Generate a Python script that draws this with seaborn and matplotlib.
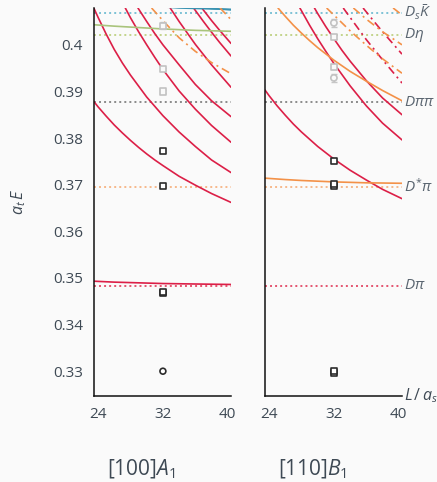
import matplotlib
matplotlib.use("Agg")
import matplotlib.pyplot as plt
import pandas as pd
import seaborn as sns

# ---- non-interacting levels, [100]A1 (L/a_s vs a_t E) ----
A1_RED_L = [
    [23.5, 24, 25, 26, 27, 28, 29, 30, 31, 32, 34, 36, 38, 40.4],
    [23.5, 24, 25, 26, 27, 28, 30, 32, 34, 36, 38, 40.4],
    [27.36, 28, 29, 30, 31, 32, 34, 36, 38, 40.4],
    [28.92, 30, 31, 32, 34, 36, 38, 40.4],
    [32.9, 34, 36, 38, 40.4],
    [35.78, 37, 38, 39, 40.4],
    [36.8, 38, 39, 40.4],
    [23.5, 26, 28, 32, 36, 40.4],
]
A1_RED_E = [
    [0.3878, 0.3867, 0.3847, 0.3828, 0.3811, 0.3795, 0.3780, 0.3766, 0.3753, 0.3741, 0.3718, 0.3699, 0.3681, 0.3662],
    [0.4078, 0.4059, 0.4023, 0.3990, 0.3961, 0.3935, 0.3888, 0.3848, 0.3813, 0.3782, 0.3753, 0.3726],
    [0.4079, 0.4058, 0.4028, 0.4000, 0.3973, 0.3947, 0.3901, 0.3862, 0.3827, 0.3791],
    [0.4079, 0.4050, 0.4024, 0.4000, 0.3957, 0.3915, 0.3880, 0.3846],
    [0.4079, 0.4050, 0.4001, 0.3957, 0.3909],
    [0.4079, 0.4050, 0.4027, 0.4005, 0.3976],
    [0.4079, 0.4052, 0.4031, 0.4003],
    [0.3493, 0.3491, 0.3490, 0.3488, 0.3487, 0.3486],
]
A1_GREEN_L = [[23.5, 26, 28, 32, 36, 40.4]]
A1_GREEN_E = [[0.4043, 0.4040, 0.4038, 0.4034, 0.4031, 0.4029]]
A1_BLUE_L = [[31.5, 32.3, 34, 36, 38, 40.4], [36.9, 38, 40.4]]
A1_BLUE_E = [[0.4086, 0.4081, 0.4079, 0.4078, 0.4077, 0.4076], [0.4080, 0.4078, 0.4075]]
A1_ORANGE_DD_L = [[30.6, 32, 34, 36, 38, 40.4], [39.05, 40.4]]
A1_ORANGE_DD_E = [[0.4079, 0.4052, 0.4015, 0.3986, 0.3962, 0.3938], [0.4079, 0.4054]]

# ---- [110]B1 ----
B1_RED_L = [
    [23.5, 24, 25, 26, 27, 28, 30, 32, 34, 36, 38, 40.4],
    [29.6, 30, 31, 32, 33, 34, 36, 38, 40.4],
    [27.8, 28, 29, 30, 31, 32, 34, 36, 38, 40.4],
]
B1_RED_E = [
    [0.3903, 0.3891, 0.3869, 0.3849, 0.3830, 0.3813, 0.3782, 0.3755, 0.3731, 0.3710, 0.3690, 0.3670],
    [0.4079, 0.4067, 0.4039, 0.4013, 0.3988, 0.3965, 0.3923, 0.3886, 0.3850],
    [0.4079, 0.4073, 0.4042, 0.4013, 0.3986, 0.3960, 0.3912, 0.3869, 0.3832, 0.3796],
]
B1_ORANGE_L = [[25.1, 26, 27, 28, 29, 30, 32, 34, 36, 38, 40.4], [23.5, 26, 28, 32, 36, 40.4]]
B1_ORANGE_E = [
    [0.4079, 0.4061, 0.4042, 0.4025, 0.4009, 0.3994, 0.3967, 0.3943, 0.3922, 0.3902, 0.3880],
    [0.3714, 0.3711, 0.3709, 0.3706, 0.3704, 0.3703],
]
B1_ORANGE_DD_L = [[31.1, 34, 36, 38, 40.4], [34.4, 36, 38, 40.4], [39.3, 40.4]]
B1_ORANGE_DD_E = [[0.4079, 0.4030, 0.3999, 0.3970, 0.3939], [0.4079, 0.4055, 0.4028, 0.4000], [0.4079, 0.4064]]
B1_RED_DD_L = [[33.15, 36, 38, 40.4], [35.6, 37, 38, 39, 40.4]]
B1_RED_DD_E = [[0.4079, 0.4011, 0.3968, 0.3918], [0.4079, 0.4049, 0.4028, 0.4008, 0.3980]]

# thresholds
THRESH_NAMES = [r"$D_s\bar{K}$", r"$D\eta$", r"$D\pi\pi$", r"$D^{*}\pi$", r"$D\pi$"]
THRESH_E = [0.4069, 0.4022, 0.3877, 0.3696, 0.3483]

# lattice levels at L/a_s = 32
A1_PTS_E = [0.3300, 0.3467, 0.3470, 0.3698, 0.3772]
A1_PTS_M = ["o", "s", "s", "s", "s"]
A1_GREY_E = [0.3900, 0.3948, 0.4041]
A1_GREY_ERR = [0.0003, 0.0003, 0.0007]
A1_GREY_M = ["s", "s", "s"]
B1_PTS_E = [0.3296, 0.3301, 0.3698, 0.3701, 0.3751]
B1_PTS_M = ["s", "s", "s", "s", "s"]
B1_GREY_E = [0.3929, 0.3953, 0.4017, 0.4047]
B1_GREY_ERR = [0.0009, 0.0004, 0.0004, 0.0009]
B1_GREY_M = ["o", "s", "s", "o"]
L_DATA = 32

PALETTE = {"red": "#dc1f47", "orange": "#f39148", "green": "#a9c47c", "blue": "#3a93b2"}
THRESH_COLORS = ["#7cc2d6", "#c3d48c", "#8a8a8a", "#f6b88a", "#e4536f"]
TEXT = "#3e4954"


def curve_frame(groups):
    rows = []
    for color, style, Ls, Es in groups:
        for k, (ls, es) in enumerate(zip(Ls, Es)):
            for l, e in zip(ls, es):
                rows.append({"curve": f"{color}-{style}-{k}", "color": color, "line": style, "L": l, "E": e})
    return pd.DataFrame(rows)


panels = {
    "A1": curve_frame([
        ("red", "solid", A1_RED_L, A1_RED_E),
        ("green", "solid", A1_GREEN_L, A1_GREEN_E),
        ("blue", "solid", A1_BLUE_L, A1_BLUE_E),
        ("orange", "dashdot", A1_ORANGE_DD_L, A1_ORANGE_DD_E),
    ]),
    "B1": curve_frame([
        ("red", "solid", B1_RED_L, B1_RED_E),
        ("orange", "solid", B1_ORANGE_L, B1_ORANGE_E),
        ("orange", "dashdot", B1_ORANGE_DD_L, B1_ORANGE_DD_E),
        ("red", "dashdot", B1_RED_DD_L, B1_RED_DD_E),
    ]),
}
points = {
    "A1": (A1_PTS_E, A1_PTS_M, A1_GREY_E, A1_GREY_ERR, A1_GREY_M),
    "B1": (B1_PTS_E, B1_PTS_M, B1_GREY_E, B1_GREY_ERR, B1_GREY_M),
}

sns.set_style("white")
plt.rcParams["font.family"] = ["Open Sans", "DejaVu Sans"]
plt.rcParams["mathtext.fontset"] = "custom"
plt.rcParams["mathtext.rm"] = "Open Sans"
plt.rcParams["mathtext.it"] = "Open Sans:italic"
plt.rcParams["mathtext.bf"] = "Open Sans:bold"

W, H = 437, 482
fig = plt.figure(figsize=(W / 100, H / 100), dpi=100, facecolor="#fafafa")
ax_a = fig.add_axes([94 / W, 86 / H, 137 / W, 388.5 / H])
ax_b = fig.add_axes([265 / W, 86 / H, 137 / W, 388.5 / H])

for ax, key in [(ax_a, "A1"), (ax_b, "B1")]:
    ax.set_facecolor("#fafafa")
    for e, c in zip(THRESH_E, THRESH_COLORS):
        ax.axhline(e, color=c, lw=1.4, ls=(0, (1, 1.6)), zorder=1)
    sns.lineplot(
        data=panels[key], x="L", y="E", hue="color", style="line", units="curve",
        estimator=None, sort=False, palette=PALETTE,
        dashes={"solid": "", "dashdot": (5, 2.5, 1.2, 2.5)},
        linewidth=1.2, legend=False, ax=ax, zorder=2,
    )
    pts_e, pts_m, grey_e, grey_err, grey_m = points[key]
    ax.errorbar([L_DATA] * len(grey_e), grey_e, yerr=grey_err, fmt="none",
                ecolor="#c6c6c6", elinewidth=1, capsize=2, zorder=3)
    sns.scatterplot(
        x=[L_DATA] * len(grey_e), y=grey_e, style=grey_m, markers={"o": "o", "s": "s"},
        color="#fafafa", edgecolor="#c2c2c2", linewidth=1.2, s=20, legend=False, ax=ax, zorder=4,
    )
    sns.scatterplot(
        x=[L_DATA] * len(pts_e), y=pts_e, style=pts_m, markers={"o": "o", "s": "s"},
        color="white", edgecolor="#2b2b2b", linewidth=1.2, s=18, legend=False, ax=ax, zorder=5,
    )

    ax.set_xlim(23.5, 40.4)
    ax.set_ylim(0.32468, 0.4080)
    ax.set_xticks([24, 32, 40])
    ax.set_yticks([0.33, 0.34, 0.35, 0.36, 0.37, 0.38, 0.39, 0.40])
    ax.set_xlabel("")
    ax.set_ylabel("")
    for side in ["top", "right"]:
        ax.spines[side].set_visible(False)
    for side in ["left", "bottom"]:
        ax.spines[side].set_color("#111111")
        ax.spines[side].set_linewidth(1.1)
    ax.tick_params(direction="in", length=6, width=1.2, color="#777777",
                   labelcolor=TEXT, labelsize=11, pad=8)

ax_a.set_yticklabels(["0.33", "0.34", "0.35", "0.36", "0.37", "0.38", "0.39", "0.4"])
ax_b.set_yticklabels([])
ax_a.set_ylabel(r"$a_t\,E$", color=TEXT, fontsize=11.5, labelpad=18)

for name, e in zip(THRESH_NAMES, THRESH_E):
    ax_b.text(40.6, e, name, color="#5a6570", fontsize=11, va="center", ha="left", clip_on=False)
ax_b.text(40.6, 0.32468, r"$L\,/\,a_s$", color=TEXT, fontsize=11.5, va="center", ha="left", clip_on=False)

fig.text(141.5 / W, 1 - 469 / H, r"$[100]A_1$", color=TEXT, fontsize=15, ha="center", va="center")
fig.text(312.5 / W, 1 - 469 / H, r"$[110]B_1$", color=TEXT, fontsize=15, ha="center", va="center")

fig.savefig("out.png", dpi=100, facecolor=fig.get_facecolor())
plt.close(fig)
